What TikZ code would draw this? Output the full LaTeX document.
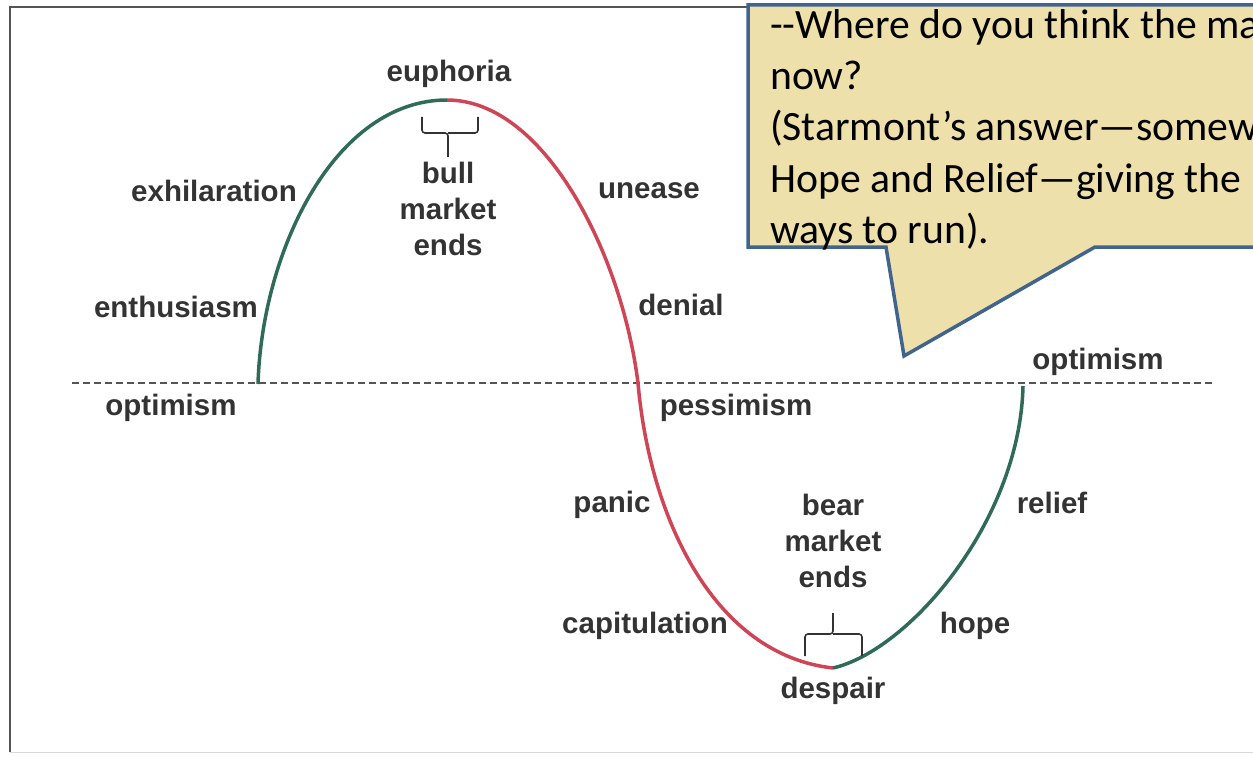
\documentclass[tikz,border=0pt]{standalone}
\usepackage{fontspec}
\setmainfont{Liberation Sans}
\newfontfamily\calfont{Carlito}
\definecolor{upgreen}{HTML}{2F6B58}
\definecolor{downred}{HTML}{D04555}
\definecolor{labelgray}{HTML}{333333}
\definecolor{framegray}{HTML}{555555}
\definecolor{calloutfill}{HTML}{EEE0AA}
\definecolor{calloutline}{HTML}{41648F}
\begin{document}
\begin{tikzpicture}[x=1pt,y=-1pt,
  lbl/.style={font=\fontsize{29.5}{36}\selectfont\bfseries, text=labelgray, inner sep=0pt, align=center},
  upcurve/.style={draw=upgreen, line width=3.5pt},
  downcurve/.style={draw=downred, line width=3.5pt},
  dashline/.style={draw=framegray, line width=1.8pt, dash pattern=on 7pt off 4pt},
  bracestyle/.style={draw=labelgray, line width=1.6pt, rounded corners=3pt},
  callouttext/.style={font=\calfont\fontsize{41.7}{51}\selectfont, text=black, anchor=base west, inner sep=0pt}]
\useasboundingbox (0,0) rectangle (1253,757);
\clip (0,0) rectangle (1253,757);
% frame
\draw[framegray, line width=1.6pt] (10,752) -- (10,7) -- (760,7);
\draw[black!15, line width=1pt] (10,752) -- (1253,752);
% dashed baseline
\coordinate (dl) at (72,383);
\coordinate (dr) at (1215,383);
\draw[dashline] (dl) -- (dr);
% curve
\coordinate (start) at (258,384);
\coordinate (peak) at (447,100);
\coordinate (cross) at (638,383);
\coordinate (trough) at (833,668);
\coordinate (finish) at (1023,386);
\draw[upcurve] (start) .. controls (262,250) and (335,100) .. (peak);
\draw[downcurve] (peak) .. controls (545,100) and (622,255) .. (cross) .. controls (650,520) and (715,655) .. (trough);
\draw[upcurve] (trough) .. controls (910,650) and (1020,520) .. (finish);
% braces
\draw[bracestyle] (422,117) -- (422,133) -- (448,133) -- (448,157);
\draw[bracestyle] (478,117) -- (478,133) -- (448,133);
\draw[bracestyle] (805,656) -- (805,634) -- (833,634) -- (833,613);
\draw[bracestyle] (862,656) -- (862,634) -- (833,634);
% labels
\node[lbl] (euphoria) at (449,74) {euphoria};
\node[lbl] (bull) at (448,209) {bull\\market\\ends};
\node[lbl] (exhil) at (214,191) {exhilaration};
\node[lbl] (unease) at (649,191) {unease};
\node[lbl] (enthus) at (176,307) {enthusiasm};
\node[lbl] (denial) at (681,305) {denial};
\node[lbl] (optl) at (171,408) {optimism};
\node[lbl] (pess) at (736,408) {pessimism};
\node[lbl] (optr) at (1098,362) {optimism};
\node[lbl] (panic) at (612,505) {panic};
\node[lbl] (bear) at (833,541) {bear\\market\\ends};
\node[lbl] (relief) at (1052,503) {relief};
\node[lbl] (capit) at (645,626) {capitulation};
\node[lbl] (hope) at (975,626) {hope};
\node[lbl] (despair) at (833,691) {despair};
% callout
\draw[fill=calloutfill, draw=calloutline, line width=3.5pt, line join=miter]
  (748,5) -- (1262,5) -- (1262,247) -- (1095,247) -- (904,356) -- (886,247) -- (748,247) -- cycle;
\node[callouttext] (q1) at (770,39) {{-}{-}Where do you think the ma};
\node[callouttext] (q2) at (770,90) {now?};
\node[callouttext] (q3) at (770,141) {(Starmont’s answer—somew};
\node[callouttext] (q4) at (770,192) {Hope and Relief—giving the};
\node[callouttext] (q5) at (770,243) {ways to run).};
\end{tikzpicture}
\end{document}
